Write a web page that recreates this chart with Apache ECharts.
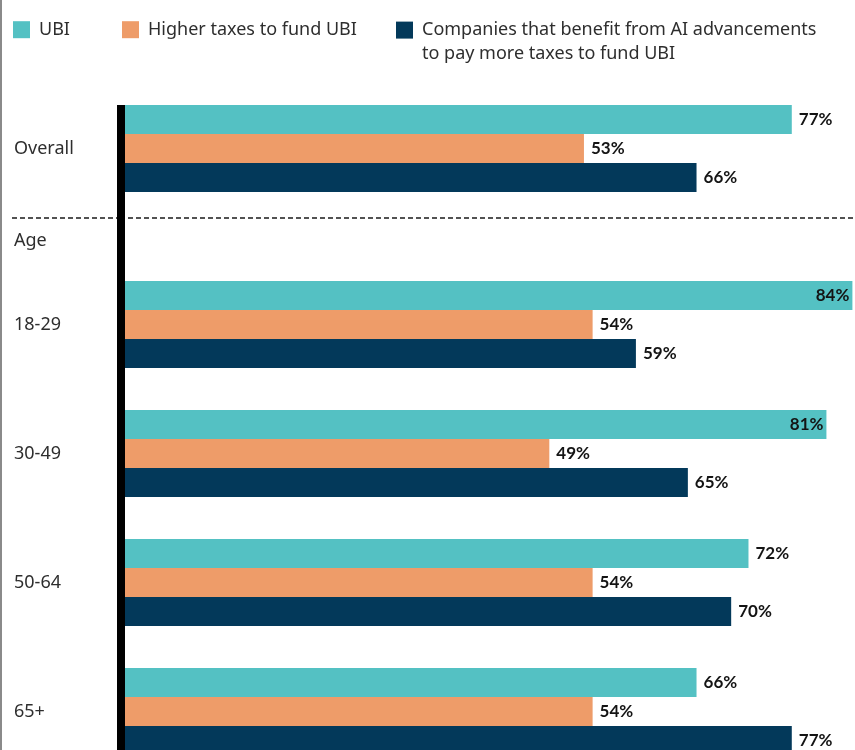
<!DOCTYPE html>
<html>
<head>
<meta charset="utf-8">
<script src="https://cdn.jsdelivr.net/npm/echarts@6/dist/echarts.min.js"></script>
<style>
html,body{margin:0;padding:0;background:#fff;}
#chart{width:855px;height:750px;}
</style>
</head>
<body>
<div id="chart"></div>
<script>
// ---- data ----
var seriesNames = ['UBI', 'Higher taxes to fund UBI', 'Companies that benefit from AI advancements\nto pay more taxes to fund UBI'];
var overallCategories = ['Overall', ''];
var ageCategories = ['18-29', '30-49', '50-64', '65+'];
var subheading = 'Age';
var overallUBI = [77, null];
var overallTaxes = [53, null];
var overallCompanies = [66, null];
var ageUBI = [84, 81, 72, 66];
var ageTaxes = [54, 49, 54, 54];
var ageCompanies = [59, 65, 70, 77];

var colors = ['#54C1C3', '#EE9C69', '#03395A'];
var labelFont = 'Lato';
var textFont = 'Noto Sans';

function labelled(values) {
  return values.map(function (v) {
    if (v == null) return null;
    if (v > 80) {
      return { value: v, label: { position: 'insideRight', distance: 3 } };
    }
    return v;
  });
}

function barSeries(name, values, idx, gridIdx) {
  return {
    type: 'bar',
    name: name,
    xAxisIndex: gridIdx,
    yAxisIndex: gridIdx,
    data: labelled(values),
    barWidth: 29,
    barGap: '0%',
    itemStyle: { color: colors[idx] },
    label: {
      show: true,
      position: 'right',
      distance: 7,
      formatter: '{c}%',
      fontFamily: labelFont,
      fontWeight: 'bold',
      fontSize: 17,
      color: '#141414'
    },
    emphasis: { disabled: true },
    animation: false
  };
}

function yAxisFor(gridIdx, cats) {
  return {
    type: 'category',
    gridIndex: gridIdx,
    data: cats,
    inverse: true,
    offset: 4,
    axisLine: { show: true, onZero: false, lineStyle: { color: '#000', width: 8, cap: 'butt' } },
    axisTick: { show: false },
    splitLine: { show: false },
    axisLabel: {
      align: 'left',
      margin: 107,
      fontFamily: textFont,
      fontSize: 18,
      color: '#2e2e2e'
    }
  };
}

function xAxisFor(gridIdx) {
  return { type: 'value', gridIndex: gridIdx, min: 0, max: 84.3, show: false };
}

function legendFor(i, left, top) {
  return {
    left: left,
    top: top,
    padding: 0,
    itemWidth: 17,
    itemHeight: 17,
    icon: 'rect',
    selectedMode: false,
    data: [seriesNames[i]],
    formatter: function (name) {
      // multi-line legend text: first line aligned with the icon
      return name.indexOf('\n') >= 0 ? '\n' + name : name;
    },
    textStyle: { fontFamily: textFont, fontSize: 18, color: '#2e2e2e', padding: [10, 0, 0, 4], lineHeight: 23.4 }
  };
}

var chart = echarts.init(document.getElementById('chart'), null, { renderer: 'canvas' });
chart.setOption({
  backgroundColor: '#fff',
  animation: false,
  color: colors,
  legend: [legendFor(0, 13, 13), legendFor(1, 122, 13), legendFor(2, 396, -10)],
  grid: [
    { left: 125, right: 0, top: 105, height: 174, outerBoundsMode: 'none', containLabel: false },
    { left: 125, right: 0, top: 260, height: 516, outerBoundsMode: 'none', containLabel: false }
  ],
  xAxis: [xAxisFor(0), xAxisFor(1)],
  yAxis: [yAxisFor(0, overallCategories), yAxisFor(1, ageCategories)],
  series: [
    barSeries(seriesNames[0], overallUBI, 0, 0),
    barSeries(seriesNames[1], overallTaxes, 1, 0),
    barSeries(seriesNames[2], overallCompanies, 2, 0),
    barSeries(seriesNames[0], ageUBI, 0, 1),
    barSeries(seriesNames[1], ageTaxes, 1, 1),
    barSeries(seriesNames[2], ageCompanies, 2, 1)
  ],
  graphic: [
    { type: 'rect', left: 0, top: 0, shape: { x: 0, y: 0, width: 2, height: 750 }, style: { fill: '#8a8a8a' }, silent: true },
    { type: 'line', shape: { x1: 12, y1: 218, x2: 117, y2: 218 }, style: { stroke: '#1a1a1a', lineWidth: 1.5, lineDash: [5, 3] }, silent: true },
    { type: 'line', shape: { x1: 128, y1: 218, x2: 855, y2: 218 }, style: { stroke: '#1a1a1a', lineWidth: 1.5, lineDash: [5, 3] }, silent: true },
    { type: 'text', x: 14, y: 241, style: { text: subheading, fontFamily: textFont, fontSize: 18, fill: '#2e2e2e', verticalAlign: 'middle', align: 'left' }, silent: true }
  ]
});
</script>
</body>
</html>
